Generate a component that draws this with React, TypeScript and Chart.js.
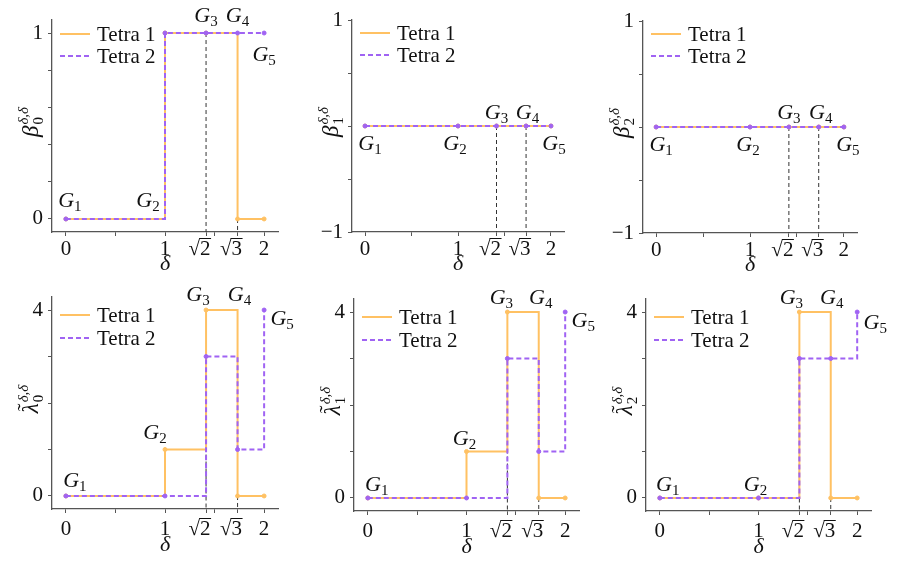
import React, { useEffect, useRef } from 'react';
import { Chart, registerables } from 'chart.js';

Chart.register(...registerables);

const SERIF = "'Liberation Serif', 'DejaVu Serif', serif";
const ORANGE = '#FFC163';
const PURPLE = '#A063F3';
const AXIS = '#555555';

// δ positions of the five graphs G1..G5
const deltaValues = [0, 1, Math.SQRT2, Math.sqrt(3), 2];
const graphNames = ['1', '2', '3', '4', '5'];
const xTickValues = [0, 0.5, 1, Math.SQRT2, 1.5, Math.sqrt(3), 2];
const xTickLabels = ['0', '', '1', '√2', '', '√3', '2'];
const seriesNames = ['Tetra 1', 'Tetra 2'];
const guideIndices = [2, 3];

// Betti numbers
const beta0Tetra1 = [0, 1, 1, 0, 0];
const beta0Tetra2 = [0, 1, 1, 1, 1];
const beta1Tetra1 = [0, 0, 0, 0, 0];
const beta1Tetra2 = [0, 0, 0, 0, 0];
const beta2Tetra1 = [0, 0, 0, 0, 0];
const beta2Tetra2 = [0, 0, 0, 0, 0];
// smallest non-zero eigenvalues
const lambda0Tetra1 = [0, 1, 4, 0, 0];
const lambda0Tetra2 = [0, 0, 3, 1, 4];
const lambda1Tetra1 = [0, 1, 4, 0, 0];
const lambda1Tetra2 = [0, 0, 3, 1, 4];
const lambda2Tetra1 = [0, 0, 4, 0, 0];
const lambda2Tetra2 = [0, 0, 3, 3, 4];

// y tick values / labels
const beta0YTicks = [0, 0.2, 0.4, 0.6, 0.8, 1];
const beta0YLabels = ['0', '', '', '', '', '1'];
const betaHighYTicks = [-1, -0.5, 0, 0.5, 1];
const betaHighYLabels = ['\u22121', '', '', '', '1'];
const lambdaYTicks = [0, 1, 2, 3, 4];
const lambdaYLabels = ['0', '', '', '', '4'];

// level (data units) each G-label is attached to
const beta0LabelLevels = [0, 0, 1, 1, 1];
const betaHighLabelLevels = [0, 0, 0, 0, 0];
const lambda01LabelLevels = [0, 1, 4, 4, 4];
const lambda2LabelLevels = [0, 0, 4, 4, 4];

type Panel = {
  sym: string; sub: string; tilde: boolean;
  t1: number[]; t2: number[];
  yMin: number; yMax: number; yTicks: number[]; yLabels: string[];
  levels: number[];
  offs: number[][]; // pixel offsets of labels (style)
  box: { l: number; r: number; t: number; b: number };
  legendRows: number[]; xLabelDy: number; xTitleDy: number;
};

const panels: Panel[] = [
  { sym: 'β', sub: '0', tilde: false, t1: beta0Tetra1, t2: beta0Tetra2, yMin: -0.07, yMax: 1.07,
    yTicks: beta0YTicks, yLabels: beta0YLabels, levels: beta0LabelLevels,
    offs: [[4, -18.5], [-17, -18.5], [0, -18], [0, -18], [0, 20.5]],
    box: { l: 52, r: 278, t: 20, b: 232 }, legendRows: [14, 36], xLabelDy: 16, xTitleDy: 31 },
  { sym: 'β', sub: '1', tilde: false, t1: beta1Tetra1, t2: beta1Tetra2, yMin: -1, yMax: 1,
    yTicks: betaHighYTicks, yLabels: betaHighYLabels, levels: betaHighLabelLevels,
    offs: [[5, 17], [-3, 17], [0, -14], [1.5, -14], [3, 17]],
    box: { l: 352, r: 564, t: 20, b: 232 }, legendRows: [13, 35], xLabelDy: 16, xTitleDy: 31 },
  { sym: 'β', sub: '2', tilde: false, t1: beta2Tetra1, t2: beta2Tetra2, yMin: -1, yMax: 1,
    yTicks: betaHighYTicks, yLabels: betaHighYLabels, levels: betaHighLabelLevels,
    offs: [[5, 17], [-2, 17], [0, -15], [2, -15], [4, 17]],
    box: { l: 643, r: 857, t: 21, b: 233 }, legendRows: [13, 35], xLabelDy: 16, xTitleDy: 31 },
  { sym: 'λ', sub: '0', tilde: true, t1: lambda0Tetra1, t2: lambda0Tetra2, yMin: -0.28, yMax: 4.28,
    yTicks: lambdaYTicks, yLabels: lambdaYLabels, levels: lambda01LabelLevels,
    offs: [[9, -15.5], [-10, -17], [-8, -16.5], [2, -16.5], [18, 7.5]],
    box: { l: 52, r: 278, t: 297, b: 509 }, legendRows: [18, 41], xLabelDy: 19, xTitleDy: 35 },
  { sym: 'λ', sub: '1', tilde: true, t1: lambda1Tetra1, t2: lambda1Tetra2, yMin: -0.28, yMax: 4.28,
    yTicks: lambdaYTicks, yLabels: lambdaYLabels, levels: lambda01LabelLevels,
    offs: [[9, -13.5], [-2, -13], [-6, -15], [2, -15], [18, 8]],
    box: { l: 354, r: 579, t: 299, b: 511 }, legendRows: [18, 41], xLabelDy: 19, xTitleDy: 35 },
  { sym: 'λ', sub: '2', tilde: true, t1: lambda2Tetra1, t2: lambda2Tetra2, yMin: -0.28, yMax: 4.28,
    yTicks: lambdaYTicks, yLabels: lambdaYLabels, levels: lambda2LabelLevels,
    offs: [[8, -13.5], [-3, -13.5], [-8, -15], [1, -15], [18, 9.5]],
    box: { l: 646, r: 871, t: 299, b: 511 }, legendRows: [18, 41], xLabelDy: 19, xTitleDy: 35 },
];

const LEFT_SPACE = 52;
const TOP_SPACE = 20;
const RIGHT_SPACE = 28;
const BOTTOM_SPACE = 50;

function canvasRect(p: Panel) {
  const left = p.box.l - LEFT_SPACE;
  const top = p.box.t - TOP_SPACE;
  const right = Math.min(899, p.box.r + RIGHT_SPACE);
  const bottom = p.box.b + BOTTOM_SPACE;
  return { left, top, width: right - left, height: bottom - top, padRight: right - p.box.r };
}

function drawG(ctx: CanvasRenderingContext2D, cx: number, cyMid: number, n: string) {
  ctx.font = `italic 22px ${SERIF}`;
  const wG = ctx.measureText('G').width;
  ctx.font = `15px ${SERIF}`;
  const wn = ctx.measureText(n).width;
  const x0 = cx - (wG + wn) / 2;
  const base = cyMid + 7;
  ctx.font = `italic 22px ${SERIF}`;
  ctx.fillText('G', x0, base);
  ctx.font = `15px ${SERIF}`;
  ctx.fillText(n, x0 + wG, base + 4);
}

function drawXLabel(ctx: CanvasRenderingContext2D, cx: number, cyMid: number, label: string) {
  ctx.font = `21px ${SERIF}`;
  const base = cyMid + 7;
  if (label.startsWith('√')) {
    const wS = ctx.measureText('√').width;
    const rest = label.slice(1);
    const wR = ctx.measureText(rest).width;
    const x0 = cx - (wS + wR) / 2;
    ctx.fillText('√', x0, base);
    ctx.fillText(rest, x0 + wS, base);
    const asc = ctx.measureText('√').actualBoundingBoxAscent;
    ctx.save();
    ctx.strokeStyle = '#111';
    ctx.lineWidth = 1;
    ctx.beginPath();
    ctx.moveTo(x0 + wS - 1, base - asc + 0.5);
    ctx.lineTo(x0 + wS + wR + 0.5, base - asc + 0.5);
    ctx.stroke();
    ctx.restore();
  } else {
    const w = ctx.measureText(label).width;
    ctx.fillText(label, cx - w / 2, base);
  }
}

function drawYTitle(ctx: CanvasRenderingContext2D, baseX: number, cy: number, p: Panel) {
  ctx.save();
  ctx.translate(baseX, cy);
  ctx.rotate(-Math.PI / 2);
  ctx.font = `italic 23px ${SERIF}`;
  const wb = ctx.measureText(p.sym).width;
  ctx.font = `15px ${SERIF}`;
  const wsub = ctx.measureText(p.sub).width;
  ctx.font = `italic 15px ${SERIF}`;
  const wsup = ctx.measureText('δ,δ').width;
  const total = wb + 1 + Math.max(wsub, wsup);
  const x0 = -total / 2;
  ctx.font = `italic 23px ${SERIF}`;
  ctx.fillText(p.sym, x0, 0);
  if (p.tilde) {
    ctx.font = `22px ${SERIF}`;
    const wt = ctx.measureText('˜').width;
    ctx.fillText('˜', x0 + wb / 2 - wt / 2 + 1, -6);
  }
  ctx.font = `15px ${SERIF}`;
  ctx.fillText(p.sub, x0 + wb + 1, 5);
  ctx.font = `italic 15px ${SERIF}`;
  ctx.fillText('δ,δ', x0 + wb + 1, -10);
  ctx.restore();
}

function makePlugin(p: Panel) {
  return {
    id: 'panelDeco',
    beforeDatasetsDraw(chart: any) {
      const { ctx, chartArea } = chart;
      const x = chart.scales.x;
      const y = chart.scales.y;
      ctx.save();
      ctx.strokeStyle = '#333333';
      ctx.lineWidth = 1;
      ctx.setLineDash([4, 3]);
      guideIndices.forEach((i) => {
        const px = x.getPixelForValue(deltaValues[i]);
        const py = y.getPixelForValue(Math.min(p.t1[i], p.t2[i]));
        ctx.beginPath();
        ctx.moveTo(px, py);
        ctx.lineTo(px, chartArea.bottom);
        ctx.stroke();
      });
      ctx.restore();
    },
    afterDraw(chart: any) {
      const { ctx, chartArea } = chart;
      const x = chart.scales.x;
      const y = chart.scales.y;
      ctx.save();
      ctx.fillStyle = '#111111';
      ctx.textBaseline = 'alphabetic';
      ctx.textAlign = 'left';
      // x tick labels
      xTickValues.forEach((v, i) => {
        const lab = xTickLabels[i];
        if (!lab) return;
        const dx = lab.startsWith('√') ? -6.5 : 0;
        drawXLabel(ctx, x.getPixelForValue(v) + dx, chartArea.bottom + p.xLabelDy, lab);
      });
      // x title
      ctx.font = `italic 22px ${SERIF}`;
      const wd = ctx.measureText('δ').width;
      ctx.fillText('δ', (chartArea.left + chartArea.right) / 2 - wd / 2, chartArea.bottom + p.xTitleDy + 7);
      // y title
      drawYTitle(ctx, chartArea.left - 14, (chartArea.top + chartArea.bottom) / 2 - 4, p);
      // legend
      const colors = [ORANGE, PURPLE];
      seriesNames.forEach((name, k) => {
        const ly = chartArea.top + p.legendRows[k];
        ctx.save();
        ctx.strokeStyle = colors[k];
        ctx.lineWidth = 2;
        ctx.setLineDash(k === 1 ? [5, 3] : []);
        ctx.beginPath();
        ctx.moveTo(chartArea.left + 8, ly);
        ctx.lineTo(chartArea.left + 38, ly);
        ctx.stroke();
        ctx.restore();
        ctx.font = `21px ${SERIF}`;
        ctx.fillText(name, chartArea.left + 45, ly + 7);
      });
      // G labels
      deltaValues.forEach((d, i) => {
        const px = x.getPixelForValue(d) + p.offs[i][0];
        const py = y.getPixelForValue(p.levels[i]) + p.offs[i][1];
        drawG(ctx, px, py, graphNames[i]);
      });
      ctx.restore();
    },
  };
}

function PanelChart({ p }: { p: Panel }) {
  const ref = useRef<HTMLCanvasElement | null>(null);
  const rect = canvasRect(p);
  useEffect(() => {
    if (!ref.current) return;
    const mk = (vals: number[]) => deltaValues.map((d, i) => ({ x: d, y: vals[i] }));
    const chart = new Chart(ref.current, {
      type: 'line',
      data: {
        datasets: [
          {
            label: seriesNames[1], data: mk(p.t2), borderColor: PURPLE, backgroundColor: PURPLE,
            pointBackgroundColor: PURPLE, pointBorderColor: PURPLE, borderWidth: 2, borderDash: [5, 3],
            stepped: 'before', pointRadius: 2, pointBorderWidth: 1, order: 0, fill: false,
          },
          {
            label: seriesNames[0], data: mk(p.t1), borderColor: ORANGE, backgroundColor: ORANGE,
            pointBackgroundColor: ORANGE, pointBorderColor: ORANGE, borderWidth: 2,
            stepped: 'before', pointRadius: 2, pointBorderWidth: 1, order: 1, fill: false,
          },
        ],
      },
      options: {
        responsive: false,
        animation: false,
        devicePixelRatio: 1,
        events: [],
        layout: { padding: { left: 0, top: TOP_SPACE, right: rect.padRight, bottom: 0 } },
        plugins: { legend: { display: false }, tooltip: { enabled: false } },
        scales: {
          x: {
            type: 'linear', min: -0.14, max: 2.14,
            afterBuildTicks: (s: any) => { s.ticks = xTickValues.map((v) => ({ value: v })); },
            afterFit: (s: any) => { s.height = BOTTOM_SPACE; },
            ticks: { callback: () => '', autoSkip: false },
            grid: { drawOnChartArea: false, drawTicks: true, tickLength: 4, color: AXIS, tickWidth: 1 },
            border: { display: true, color: AXIS, width: 1.3 },
          },
          y: {
            type: 'linear', min: p.yMin, max: p.yMax,
            afterBuildTicks: (s: any) => { s.ticks = p.yTicks.map((v) => ({ value: v })); },
            afterFit: (s: any) => { s.width = LEFT_SPACE; },
            ticks: {
              callback: (_v: any, i: number) => p.yLabels[i],
              autoSkip: false, padding: 5, color: '#111111',
              font: { family: SERIF, size: 21 },
            },
            grid: { drawOnChartArea: false, drawTicks: true, tickLength: 4, color: AXIS, tickWidth: 1 },
            border: { display: true, color: AXIS, width: 1.3 },
          },
        },
      } as any,
      plugins: [makePlugin(p)],
    } as any);
    return () => chart.destroy();
  }, []);
  return (
    <canvas
      ref={ref}
      width={rect.width}
      height={rect.height}
      style={{ position: 'absolute', left: rect.left, top: rect.top, width: rect.width, height: rect.height }}
    />
  );
}

export default function App() {
  return (
    <div style={{ position: 'fixed', left: 0, top: 0, width: 899, height: 571, background: '#ffffff', overflow: 'hidden' }}>
      {panels.map((p, i) => (
        <PanelChart key={i} p={p} />
      ))}
    </div>
  );
}
